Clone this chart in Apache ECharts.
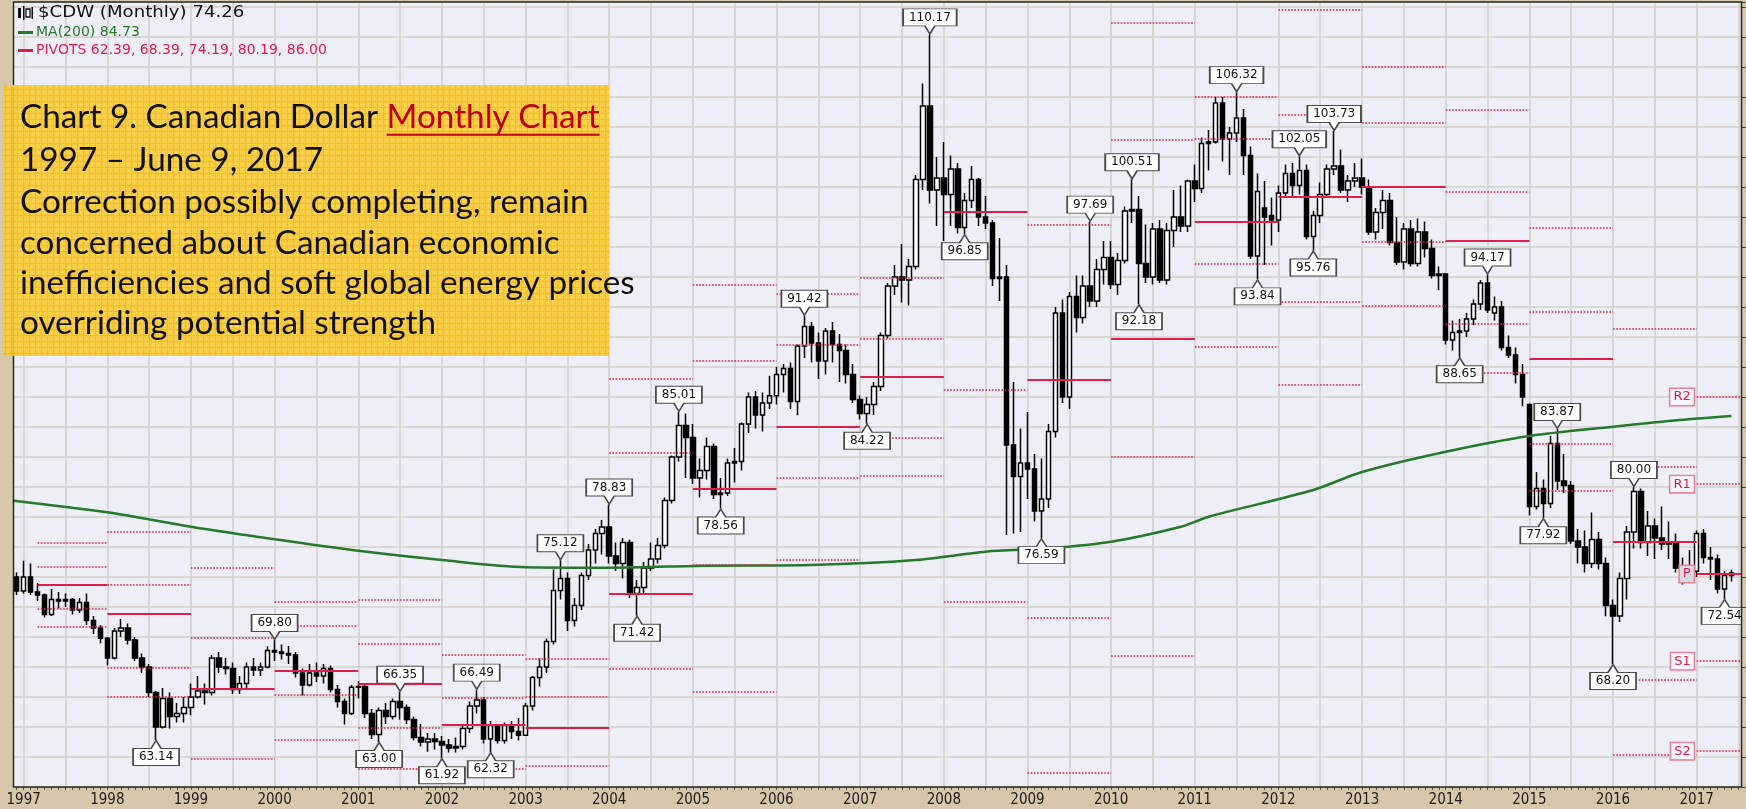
<!DOCTYPE html>
<html>
<head>
<meta charset="utf-8">
<title>$CDW Monthly</title>
<script src="https://cdn.jsdelivr.net/npm/echarts@6.0.0/dist/echarts.min.js"></script>
<style>
  html, body { margin: 0; padding: 0; background: #d8c8ab; }
  #main { width: 1746px; height: 809px; }
</style>
</head>
<body>
<div id="main"></div>
<script>
// $CDW monthly candles: [month, open, close, low, high]
var candles = [
  // 1996
  ['1996-11', 74.6, 74.0, 73.8, 75.07], ['1996-12', 74.0, 73.07, 72.8, 74.3],
  // 1997
  ['1997-01', 73.07, 74.0, 72.9, 75.08], ['1997-02', 74.0, 73.0, 72.8, 74.9],
  ['1997-03', 73.0, 72.8, 72.4, 73.6], ['1997-04', 72.8, 71.5, 71.3, 72.9],
  ['1997-05', 71.5, 72.5, 71.4, 73.2], ['1997-06', 72.5, 72.4, 71.9, 73.0],
  ['1997-07', 72.4, 72.5, 72.0, 72.9], ['1997-08', 72.5, 71.8, 71.5, 72.6],
  ['1997-09', 71.8, 72.3, 71.6, 72.6], ['1997-10', 72.3, 71.1, 70.8, 72.9],
  ['1997-11', 71.1, 70.6, 70.2, 71.4], ['1997-12', 70.6, 69.92, 69.59, 70.8],
  // 1998
  ['1998-01', 69.92, 68.6, 68.1, 70.0], ['1998-02', 68.6, 70.4, 68.5, 70.6],
  ['1998-03', 70.4, 70.6, 70.0, 71.2], ['1998-04', 70.6, 69.8, 69.5, 70.9],
  ['1998-05', 69.8, 68.6, 68.4, 70.0], ['1998-06', 68.6, 68.0, 67.6, 68.9],
  ['1998-07', 68.0, 66.3, 66.0, 68.2], ['1998-08', 66.3, 64.0, 63.14, 66.4],
  ['1998-09', 64.0, 65.9, 63.9, 66.6], ['1998-10', 65.9, 64.7, 63.9, 66.3],
  ['1998-11', 64.7, 64.9, 64.3, 65.6], ['1998-12', 64.9, 65.3, 64.3, 66.0],
  // 1999
  ['1999-01', 65.3, 66.0, 64.79, 66.9], ['1999-02', 66.0, 66.4, 65.9, 67.4],
  ['1999-03', 66.4, 66.3, 65.5, 66.9], ['1999-04', 66.3, 68.6, 66.1, 68.8],
  ['1999-05', 68.6, 68.0, 67.6, 69.0], ['1999-06', 68.0, 67.9, 67.5, 68.6],
  ['1999-07', 67.9, 66.5, 66.2, 68.3], ['1999-08', 66.5, 66.9, 66.2, 67.4],
  ['1999-09', 66.9, 68.0, 66.6, 68.3], ['1999-10', 68.0, 67.8, 67.4, 68.6],
  ['1999-11', 67.8, 68.0, 67.4, 68.3], ['1999-12', 68.0, 69.1, 67.9, 69.39],
  // 2000
  ['2000-01', 69.1, 69.0, 68.4, 69.80], ['2000-02', 69.0, 68.9, 68.5, 69.5],
  ['2000-03', 68.9, 68.8, 68.2, 69.4], ['2000-04', 68.8, 67.6, 67.3, 69.0],
  ['2000-05', 67.6, 66.8, 66.1, 67.9], ['2000-06', 66.8, 67.6, 66.7, 68.2],
  ['2000-07', 67.6, 67.4, 67.0, 68.3], ['2000-08', 67.4, 67.9, 66.9, 68.2],
  ['2000-09', 67.9, 66.5, 66.3, 68.1], ['2000-10', 66.5, 65.7, 65.3, 66.8],
  ['2000-11', 65.7, 64.9, 64.17, 65.9], ['2000-12', 64.9, 66.65, 64.8, 66.8],
  // 2001
  ['2001-01', 66.65, 66.7, 65.9, 67.05], ['2001-02', 66.7, 64.9, 64.6, 66.9],
  ['2001-03', 64.9, 63.5, 63.2, 65.2], ['2001-04', 63.5, 65.1, 63.00, 65.3],
  ['2001-05', 65.1, 64.7, 64.2, 65.6], ['2001-06', 64.7, 65.7, 64.5, 65.9],
  ['2001-07', 65.7, 65.3, 64.5, 66.35], ['2001-08', 65.3, 64.5, 64.2, 65.5],
  ['2001-09', 64.5, 63.3, 63.1, 64.7], ['2001-10', 63.3, 63.0, 62.7, 64.2],
  ['2001-11', 63.0, 63.2, 62.35, 63.6], ['2001-12', 63.2, 63.03, 62.5, 63.6],
  // 2002
  ['2002-01', 63.03, 62.8, 61.92, 63.4], ['2002-02', 62.8, 62.6, 62.3, 63.2],
  ['2002-03', 62.6, 62.7, 62.3, 63.3], ['2002-04', 62.7, 63.9, 62.5, 64.1],
  ['2002-05', 63.9, 65.4, 63.6, 65.7], ['2002-06', 65.4, 65.8, 64.9, 66.49],
  ['2002-07', 65.8, 63.2, 62.9, 66.0], ['2002-08', 63.2, 64.1, 62.32, 64.4],
  ['2002-09', 64.1, 63.1, 62.9, 64.2], ['2002-10', 63.1, 64.1, 62.9, 64.3],
  ['2002-11', 64.1, 63.7, 63.2, 64.4], ['2002-12', 63.7, 63.45, 63.1, 64.6],
  // 2003
  ['2003-01', 63.45, 65.4, 63.41, 65.6], ['2003-02', 65.4, 67.3, 65.1, 67.4],
  ['2003-03', 67.3, 68.0, 66.7, 68.6], ['2003-04', 68.0, 69.7, 67.6, 69.9],
  ['2003-05', 69.7, 73.1, 69.5, 74.5], ['2003-06', 73.1, 73.9, 72.5, 75.12],
  ['2003-07', 73.9, 71.1, 70.4, 74.3], ['2003-08', 71.1, 72.1, 70.7, 72.6],
  ['2003-09', 72.1, 74.1, 71.8, 74.3], ['2003-10', 74.1, 75.8, 73.8, 76.2],
  ['2003-11', 75.8, 76.9, 74.9, 77.2], ['2003-12', 76.9, 77.34, 75.5, 77.8],
  // 2004
  ['2004-01', 77.34, 75.4, 74.9, 78.83], ['2004-02', 75.4, 74.9, 74.4, 76.3],
  ['2004-03', 74.9, 76.3, 73.9, 76.6], ['2004-04', 76.3, 72.9, 72.6, 76.5],
  ['2004-05', 72.9, 73.3, 71.42, 73.8], ['2004-06', 73.3, 74.6, 72.8, 75.0],
  ['2004-07', 74.6, 75.2, 74.4, 76.3], ['2004-08', 75.2, 76.1, 74.9, 76.6],
  ['2004-09', 76.1, 79.1, 75.9, 79.3], ['2004-10', 79.1, 82.0, 78.9, 82.1],
  ['2004-11', 82.0, 84.1, 81.7, 85.01], ['2004-12', 84.1, 83.3, 80.6, 84.9],
  // 2005
  ['2005-01', 83.3, 80.6, 80.2, 84.2], ['2005-02', 80.6, 81.1, 79.3, 81.9],
  ['2005-03', 81.1, 82.7, 80.5, 83.3], ['2005-04', 82.7, 79.5, 79.2, 82.9],
  ['2005-05', 79.5, 79.6, 78.56, 80.6], ['2005-06', 79.6, 81.6, 79.4, 81.9],
  ['2005-07', 81.6, 81.7, 80.3, 82.6], ['2005-08', 81.7, 84.2, 81.1, 84.3],
  ['2005-09', 84.2, 86.0, 83.6, 86.3], ['2005-10', 86.0, 84.8, 83.9, 86.4],
  ['2005-11', 84.8, 85.6, 83.7, 86.3], ['2005-12', 85.6, 86.08, 85.2, 87.42],
  // 2006
  ['2006-01', 86.08, 87.5, 85.5, 88.0], ['2006-02', 87.5, 87.9, 86.3, 88.2],
  ['2006-03', 87.9, 85.7, 85.2, 88.3], ['2006-04', 85.7, 89.4, 84.79, 89.5],
  ['2006-05', 89.4, 90.7, 88.6, 91.42], ['2006-06', 90.7, 89.6, 88.3, 91.0],
  ['2006-07', 89.6, 88.4, 87.2, 90.3], ['2006-08', 88.4, 90.4, 87.5, 90.6],
  ['2006-09', 90.4, 89.5, 88.3, 91.0], ['2006-10', 89.5, 89.1, 87.0, 90.2],
  ['2006-11', 89.1, 87.5, 86.9, 89.5], ['2006-12', 87.5, 85.84, 85.6, 88.2],
  // 2007
  ['2007-01', 85.84, 84.9, 84.5, 86.1], ['2007-02', 84.9, 85.5, 84.22, 86.0],
  ['2007-03', 85.5, 86.7, 84.8, 87.0], ['2007-04', 86.7, 90.1, 86.4, 90.3],
  ['2007-05', 90.1, 93.4, 89.9, 93.6], ['2007-06', 93.4, 94.0, 92.8, 94.8],
  ['2007-07', 94.0, 93.8, 92.3, 96.2], ['2007-08', 93.8, 94.7, 92.1, 95.2],
  ['2007-09', 94.7, 100.5, 94.5, 100.8], ['2007-10', 100.5, 105.4, 99.8, 106.9],
  ['2007-11', 105.4, 99.8, 98.9, 110.17], ['2007-12', 99.8, 100.6, 97.4, 102.0],
  // 2008
  ['2008-01', 100.6, 99.5, 96.4, 103.0], ['2008-02', 99.5, 101.2, 97.4, 102.1],
  ['2008-03', 101.2, 97.3, 96.9, 101.6], ['2008-04', 97.3, 99.1, 96.85, 99.6],
  ['2008-05', 99.1, 100.5, 98.6, 101.4], ['2008-06', 100.5, 98.0, 97.4, 100.6],
  ['2008-07', 98.0, 97.6, 97.2, 99.4], ['2008-08', 97.6, 93.9, 93.4, 97.8],
  ['2008-09', 93.9, 94.0, 92.4, 96.6], ['2008-10', 94.0, 82.8, 76.8, 94.8],
  ['2008-11', 82.8, 80.7, 76.9, 87.0], ['2008-12', 80.7, 81.6, 77.0, 83.9],
  // 2009
  ['2009-01', 81.6, 81.2, 79.2, 85.0], ['2009-02', 81.2, 78.4, 77.7, 82.2],
  ['2009-03', 78.4, 79.2, 76.59, 81.9], ['2009-04', 79.2, 83.7, 78.6, 84.2],
  ['2009-05', 83.7, 91.6, 83.3, 92.0], ['2009-06', 91.6, 86.0, 85.6, 92.5],
  ['2009-07', 86.0, 92.7, 85.2, 93.0], ['2009-08', 92.7, 91.3, 90.3, 94.1],
  ['2009-09', 91.3, 93.4, 90.9, 94.1], ['2009-10', 93.4, 92.4, 92.0, 97.69],
  ['2009-11', 92.4, 94.5, 92.0, 95.2], ['2009-12', 94.5, 95.3, 93.5, 96.4],
  // 2010
  ['2010-01', 95.3, 93.5, 93.2, 96.4], ['2010-02', 93.5, 95.1, 92.8, 95.6],
  ['2010-03', 95.1, 98.4, 94.9, 98.7], ['2010-04', 98.4, 98.5, 97.6, 100.51],
  ['2010-05', 98.5, 94.9, 92.18, 99.4], ['2010-06', 94.9, 94.0, 93.6, 97.5],
  ['2010-07', 94.0, 97.2, 93.5, 97.6], ['2010-08', 97.2, 93.8, 93.6, 97.8],
  ['2010-09', 93.8, 97.1, 93.5, 97.6], ['2010-10', 97.1, 98.0, 96.0, 99.8],
  ['2010-11', 98.0, 97.4, 97.0, 100.1], ['2010-12', 97.4, 100.4, 97.0, 100.5],
  // 2011
  ['2011-01', 100.4, 99.9, 99.0, 101.5], ['2011-02', 99.9, 102.9, 99.6, 103.3],
  ['2011-03', 102.9, 103.0, 101.1, 103.8], ['2011-04', 103.0, 105.6, 102.9, 106.0],
  ['2011-05', 105.6, 103.2, 101.7, 106.0], ['2011-06', 103.2, 103.6, 100.8, 104.0],
  ['2011-07', 103.6, 104.6, 103.0, 106.32], ['2011-08', 104.6, 102.1, 100.8, 105.2],
  ['2011-09', 102.1, 95.4, 95.2, 102.7], ['2011-10', 95.4, 99.7, 93.84, 100.9],
  ['2011-11', 98.6, 98.0, 94.8, 100.4], ['2011-12', 98.1, 97.8, 96.1, 99.3],
  // 2012
  ['2012-01', 97.8, 99.6, 97.0, 100.1], ['2012-02', 99.6, 100.9, 99.3, 101.5],
  ['2012-03', 100.9, 100.1, 99.3, 101.6], ['2012-04', 100.1, 101.1, 99.5, 102.05],
  ['2012-05', 101.1, 96.7, 96.5, 101.5], ['2012-06', 96.7, 98.1, 95.76, 98.4],
  ['2012-07', 98.1, 99.5, 97.6, 100.3], ['2012-08', 99.5, 101.2, 99.4, 101.5],
  ['2012-09', 101.2, 101.4, 100.8, 103.73], ['2012-10', 101.4, 99.8, 99.6, 102.5],
  ['2012-11', 99.8, 100.4, 99.0, 100.8], ['2012-12', 100.4, 100.6, 100.0, 101.6],
  // 2013
  ['2013-01', 100.6, 100.0, 99.5, 101.89], ['2013-02', 100.0, 97.0, 96.8, 100.5],
  ['2013-03', 97.0, 98.3, 96.5, 98.6], ['2013-04', 98.3, 99.1, 97.2, 99.8],
  ['2013-05', 99.1, 96.3, 96.1, 99.6], ['2013-06', 96.3, 95.0, 94.8, 98.0],
  ['2013-07', 95.0, 97.2, 94.5, 97.6], ['2013-08', 97.2, 94.9, 94.7, 97.8],
  ['2013-09', 94.9, 97.0, 94.7, 97.9], ['2013-10', 97.0, 95.9, 95.3, 97.7],
  ['2013-11', 95.9, 94.1, 93.9, 96.5], ['2013-12', 94.1, 94.2, 93.11, 94.7],
  // 2014
  ['2014-01', 94.2, 89.8, 89.5, 94.15], ['2014-02', 89.8, 90.3, 89.1, 91.1],
  ['2014-03', 90.3, 90.4, 88.65, 91.2], ['2014-04', 90.4, 91.2, 90.0, 91.6],
  ['2014-05', 91.2, 92.2, 90.8, 92.5], ['2014-06', 92.2, 93.6, 91.8, 93.8],
  ['2014-07', 93.6, 91.8, 91.6, 94.17], ['2014-08', 91.6, 92.0, 91.1, 92.7],
  ['2014-09', 92.0, 89.3, 89.1, 92.4], ['2014-10', 89.3, 88.8, 88.6, 90.1],
  ['2014-11', 88.8, 87.5, 86.9, 89.3], ['2014-12', 87.5, 86.0, 85.39, 88.2],
  // 2015
  ['2015-01', 85.5, 78.7, 78.1, 85.57], ['2015-02', 78.7, 79.9, 78.5, 81.0],
  ['2015-03', 79.9, 78.9, 77.92, 80.5], ['2015-04', 78.9, 82.9, 78.6, 83.4],
  ['2015-05', 82.9, 80.4, 79.8, 83.87], ['2015-06', 80.4, 80.1, 79.6, 82.2],
  ['2015-07', 80.1, 76.4, 76.2, 80.4], ['2015-08', 76.4, 76.0, 74.9, 77.2],
  ['2015-09', 76.0, 74.9, 74.3, 77.1], ['2015-10', 74.9, 76.5, 74.6, 78.3],
  ['2015-11', 76.5, 74.9, 74.5, 77.0], ['2015-12', 74.9, 72.1, 71.39, 75.3],
  // 2016
  ['2016-01', 72.1, 71.4, 68.20, 72.5], ['2016-02', 71.4, 73.9, 71.0, 74.3],
  ['2016-03', 73.9, 77.0, 72.5, 77.4], ['2016-04', 77.0, 79.7, 75.9, 80.004],
  ['2016-05', 79.7, 76.3, 75.9, 79.9], ['2016-06', 76.3, 77.4, 75.4, 78.4],
  ['2016-07', 77.4, 76.6, 75.2, 77.9], ['2016-08', 76.6, 76.2, 75.8, 78.7],
  ['2016-09', 76.2, 76.25, 75.2, 77.7], ['2016-10', 76.25, 74.6, 74.3, 76.9],
  ['2016-11', 74.6, 74.5, 73.5, 75.3], ['2016-12', 74.5, 74.38, 73.8, 75.8],
  // 2017
  ['2017-01', 74.38, 76.9, 74.0, 77.1], ['2017-02', 76.9, 75.3, 74.9, 77.2],
  ['2017-03', 75.3, 75.2, 73.8, 76.0], ['2017-04', 75.2, 73.2, 72.9, 75.5],
  ['2017-05', 73.2, 74.1, 72.54, 74.4], ['2017-06', 74.1, 74.26, 73.7, 74.5]
];

// 1996 full-year high, low, close (for the 1997 pivots)
var year1996 = [75.07, 72.27, 73.07];

// MA(200)
var maPoints = [
  ['1996-11', 79.12], ['1998-01', 78.31], ['1999-01', 77.35], ['2000-01', 76.51],
  ['2001-01', 75.75], ['2002-01', 75.13], ['2003-01', 74.65], ['2004-01', 74.62],
  ['2005-03', 74.75], ['2006-06', 74.8], ['2007-09', 75.13], ['2008-07', 75.69],
  ['2009-04', 75.91], ['2010-01', 76.35], ['2010-11', 77.35], ['2011-03', 78.02],
  ['2012-06', 79.8], ['2013-01', 81.0], ['2014-01', 82.35], ['2015-01', 83.4],
  ['2016-01', 84.02], ['2016-09', 84.4], ['2017-06', 84.73]
];

// swing highs / lows that carry a value box
var callouts = [
  ['1998-08', 'low'], ['2000-01', 'high'], ['2001-04', 'low'], ['2001-07', 'high'],
  ['2002-01', 'low'], ['2002-06', 'high'], ['2002-08', 'low'], ['2003-06', 'high'],
  ['2004-01', 'high'], ['2004-05', 'low'], ['2004-11', 'high'], ['2005-05', 'low'],
  ['2006-05', 'high'], ['2007-02', 'low'], ['2007-11', 'high'], ['2008-04', 'low'],
  ['2009-03', 'low'], ['2009-10', 'high'], ['2010-04', 'high'], ['2010-05', 'low'],
  ['2011-07', 'high'], ['2011-10', 'low'], ['2012-04', 'high'], ['2012-06', 'low'],
  ['2012-09', 'high'], ['2014-03', 'low'], ['2014-07', 'high'], ['2015-03', 'low'],
  ['2015-05', 'high'], ['2016-01', 'low'], ['2016-04', 'high'], ['2017-05', 'low']
];

var noteTitle = ['Chart 9. Canadian Dollar ', 'Monthly Chart'];
var noteLines = [
  '1997 \u2013 June 9, 2017',
  'Correction possibly completing, remain',
  'concerned about Canadian economic',
  'inefficiencies and soft global energy prices',
  'overriding potential strength'
];

var TAN = '#d8c8ab';
var PLOT_BG = '#eeeef6';
var GRID_LINE = '#d2d0cc';
var PIVOT_RED = '#e01e4e';
var MA_GREEN = '#25792a';
var YMIN = 60, YMAX = 112.33;

var chartDom = document.getElementById('main');
var myChart = echarts.init(chartDom);
var option;

// categories Oct 1996 .. Aug 2017; the empty ends put the plot edges in place
var months = [];
(function () {
  var y = 1996, m = 10;
  while (y < 2017 || (y === 2017 && m <= 8)) {
    months.push(y + '-' + (m < 10 ? '0' : '') + m);
    m++;
    if (m > 12) { m = 1; y++; }
  }
})();

var byMonth = {};
candles.forEach(function (r) { byMonth[r[0]] = r; });

var candleData = months.map(function (k) {
  var r = byMonth[k];
  return r ? [r[1], r[2], r[3], r[4]] : '-';
});

var maByMonth = {};
maPoints.forEach(function (p) { maByMonth[p[0]] = p[1]; });
var maData = months.map(function (k) {
  return k in maByMonth ? maByMonth[k] : null;
});

function yearStats(yr) {
  var rows = candles.filter(function (r) { return r[0].slice(0, 4) === String(yr); });
  return {
    high: Math.max.apply(null, rows.map(function (r) { return r[4]; })),
    low: Math.min.apply(null, rows.map(function (r) { return r[3]; })),
    close: rows[rows.length - 1][2]
  };
}

// yearly floor-trader pivots from the previous year's high / low / close
var pivotLines = [];
var lastPivots = [];
for (var yr = 1997; yr <= 2017; yr++) {
  var b = yr === 1997
    ? { high: year1996[0], low: year1996[1], close: year1996[2] }
    : yearStats(yr - 1);
  var p = (b.high + b.low + b.close) / 3;
  var range = b.high - b.low;
  var levels = [
    ['R2', p + range], ['R1', 2 * p - b.low], ['P', p],
    ['S1', 2 * p - b.high], ['S2', p - range]
  ];
  if (yr === 2017) lastPivots = levels;
  var from = yr === 1997 ? '1997-03' : yr + '-01';
  var to = yr === 2017 ? months[months.length - 1] : (yr + 1) + '-01';
  levels.forEach(function (lv) {
    if (lv[1] < YMIN || lv[1] > YMAX) return;
    var solid = lv[0] === 'P';
    pivotLines.push([{
      coord: [from, lv[1]],
      lineStyle: {
        color: PIVOT_RED,
        width: solid ? 2 : 1.6,
        type: solid ? 'solid' : [1.6, 1.6],
        opacity: 1
      },
      label: yr === 2017 ? {
        show: true,
        position: 'start',
        distance: 3,
        formatter: lv[0],
        color: PIVOT_RED,
        fontSize: 13,
        fontFamily: 'DejaVu Sans',
        backgroundColor: solid ? '#d9d9e2' : '#f6f6fb',
        borderColor: '#ea7f97',
        borderWidth: 1.5,
        padding: [2, 3, 1, 3]
      } : { show: false }
    }, { coord: [to, lv[1]] }]);
  });
}

function highBox(w) {
  var c = w / 2;
  return 'path://M0,0H' + w + 'V17H' + (c + 5) + 'L' + c + ',25L' + (c - 5) + ',17H0Z';
}
function lowBox(w) {
  var c = w / 2;
  return 'path://M' + c + ',0L' + (c + 5) + ',8H' + w + 'V25H0V8H' + (c - 5) + 'Z';
}

var calloutPoints = callouts.map(function (c) {
  var r = byMonth[c[0]];
  var isHigh = c[1] === 'high';
  var v = isHigh ? r[4] : r[3];
  var txt = v.toFixed(2);
  var w = txt.length * 7.6 + 8;
  return {
    coord: [c[0], v],
    symbol: isHigh ? highBox(w) : lowBox(w),
    symbolSize: [w, 25],
    symbolOffset: [0, isHigh ? -13 : 13],
    itemStyle: { color: '#ffffff', borderColor: '#4a4a4a', borderWidth: 1.3 },
    label: {
      show: true,
      position: 'inside',
      offset: [0, isHigh ? -4 : 4],
      formatter: txt,
      color: '#111',
      fontSize: 12,
      fontFamily: 'DejaVu Sans'
    }
  };
});

// text box fonts, sized to the widest line
var measureCtx = document.createElement('canvas').getContext('2d');
measureCtx.font = '100px Lato';
var noteSize = 100 * 615 / measureCtx.measureText(noteLines[3]).width;
measureCtx.font = noteSize + 'px Lato';
var titleW = measureCtx.measureText(noteTitle[0]).width;
var linkW = measureCtx.measureText(noteTitle[1]).width;

// yellow hatch for the text box
var hatch = document.createElement('canvas');
hatch.width = 6; hatch.height = 6;
var hctx = hatch.getContext('2d');
hctx.fillStyle = '#fdca2e';
hctx.fillRect(0, 0, 6, 6);
hctx.fillStyle = '#f4b80c';
hctx.fillRect(0, 5, 6, 1);
hctx.fillRect(5, 0, 1, 6);
hctx.fillStyle = '#ffd95e';
hctx.fillRect(2, 2, 1, 1);

var noteY = [117, 160, 202, 243, 283, 323];
var noteGraphics = [
  {
    type: 'rect', z: 70, silent: true,
    shape: { x: 3, y: 85, width: 606, height: 271 },
    style: { fill: { image: hatch, repeat: 'repeat' }, opacity: 0.9 }
  },
  {
    type: 'text', z: 71, silent: true, x: 20, y: noteY[0],
    style: { text: noteTitle[0], fontSize: noteSize, fontFamily: 'Lato', fill: '#111', verticalAlign: 'middle' }
  },
  {
    type: 'text', z: 71, silent: true, x: 20 + titleW, y: noteY[0],
    style: { text: noteTitle[1], fontSize: noteSize, fontFamily: 'Lato', fill: '#c00000', verticalAlign: 'middle' }
  },
  {
    type: 'rect', z: 71, silent: true,
    shape: { x: 20 + titleW, y: noteY[0] + noteSize * 0.5, width: linkW, height: 2 },
    style: { fill: '#c00000' }
  }
];
noteLines.forEach(function (t, i) {
  noteGraphics.push({
    type: 'text', z: 71, silent: true, x: 20, y: noteY[i + 1],
    style: { text: t, fontSize: noteSize, fontFamily: 'Lato', fill: '#111', verticalAlign: 'middle' }
  });
});

var lastClose = candles[candles.length - 1][2];
var lastMa = maPoints[maPoints.length - 1][1];
var pivotText = lastPivots.map(function (l) { return l[1]; })
  .sort(function (a, b) { return a - b; })
  .map(function (v) { return v.toFixed(2); }).join(', ');

var headerGraphics = [
  // tiny candle icon
  { type: 'rect', z: 60, silent: true, shape: { x: 18, y: 8, width: 3, height: 10 }, style: { fill: '#111' } },
  { type: 'rect', z: 60, silent: true, shape: { x: 23, y: 6, width: 1.5, height: 14 }, style: { fill: '#111' } },
  { type: 'rect', z: 60, silent: true, shape: { x: 26, y: 9, width: 4, height: 8 }, style: { fill: '#fff', stroke: '#111', lineWidth: 1.3 } },
  { type: 'rect', z: 60, silent: true, shape: { x: 31.5, y: 7, width: 1.5, height: 12 }, style: { fill: '#111' } },
  {
    type: 'text', z: 60, silent: true, x: 38, y: 13, scaleX: 1.17,
    style: { text: '$CDW (Monthly) ' + lastClose.toFixed(2), fontSize: 15.5, fontFamily: 'DejaVu Sans', fill: '#111', verticalAlign: 'middle' }
  },
  { type: 'rect', z: 60, silent: true, shape: { x: 18, y: 31, width: 15, height: 3 }, style: { fill: MA_GREEN } },
  {
    type: 'text', z: 60, silent: true, x: 36, y: 32,
    style: { text: 'MA(200) ' + lastMa.toFixed(2), fontSize: 14, fontFamily: 'DejaVu Sans', fill: MA_GREEN, verticalAlign: 'middle' }
  },
  { type: 'rect', z: 60, silent: true, shape: { x: 18, y: 49, width: 15, height: 3 }, style: { fill: PIVOT_RED } },
  {
    type: 'text', z: 60, silent: true, x: 36, y: 50,
    style: { text: 'PIVOTS ' + pivotText, fontSize: 14, fontFamily: 'DejaVu Sans', fill: PIVOT_RED, verticalAlign: 'middle' }
  }
];

var frameGraphics = [
  { type: 'rect', z: 50, silent: true, shape: { x: 0, y: 0, width: 13.5, height: 791 }, style: { fill: TAN } },
  { type: 'rect', z: 50, silent: true, shape: { x: 1741.5, y: 0, width: 4.5, height: 791 }, style: { fill: TAN } },
  { type: 'rect', z: 50, silent: true, shape: { x: 0, y: 0, width: 1746, height: 1.5 }, style: { fill: TAN } },
  {
    type: 'rect', z: 51, silent: true,
    shape: { x: 13.5, y: 2, width: 1728, height: 785 },
    style: { fill: 'none', stroke: '#262626', lineWidth: 1.5 }
  }
];

option = {
  backgroundColor: TAN,
  animation: false,
  grid: {
    left: 2.73, right: 0.52, top: 2, bottom: 22,
    show: true, backgroundColor: PLOT_BG, borderWidth: 0,
    outerBoundsMode: 'none'
  },
  xAxis: {
    type: 'category',
    data: months,
    boundaryGap: false,
    axisLine: { show: false },
    axisTick: { show: true, interval: 0, length: 3, lineStyle: { color: '#555', width: 1 } },
    axisLabel: {
      interval: function (i, v) { return v.slice(5) === '01'; },
      formatter: function (v) { return v.slice(0, 4); },
      color: '#1a1a1a',
      fontSize: 15,
      fontFamily: '"DejaVu Sans Condensed", "Liberation Sans Narrow", "DejaVu Sans"',
      margin: 6
    },
    splitLine: {
      show: true,
      interval: function (i, v) { var mm = v.slice(5); return mm === '01' || mm === '07'; },
      lineStyle: { color: GRID_LINE, width: 1.5 }
    }
  },
  yAxis: [
    {
      type: 'value',
      position: 'right',
      min: YMIN,
      max: YMAX,
      interval: 2,
      axisLine: { show: false },
      axisTick: { show: false },
      axisLabel: { show: false },
      splitLine: { show: true, lineStyle: { color: GRID_LINE, width: 1.5 } }
    },
    {
      // small price ticks along the right edge, drawn above the margin strip
      type: 'value',
      position: 'right',
      min: YMIN,
      max: YMAX,
      interval: 2,
      z: 60,
      axisLine: { show: false },
      axisTick: { show: true, inside: true, length: 3.5, lineStyle: { color: '#333', width: 1 } },
      axisLabel: { show: false },
      splitLine: { show: false }
    }
  ],
  series: [
    {
      name: '$CDW',
      type: 'candlestick',
      data: candleData,
      barWidth: 5,
      z: 2,
      itemStyle: {
        color: '#ffffff',
        color0: '#000000',
        borderColor: '#000000',
        borderColor0: '#000000',
        borderWidth: 1.5
      }
    },
    {
      name: 'MA(200)',
      type: 'line',
      data: maData,
      connectNulls: true,
      smooth: 0.3,
      symbol: 'none',
      z: 3,
      lineStyle: { color: MA_GREEN, width: 2.5 },
      markLine: {
        silent: true,
        symbol: ['none', 'none'],
        animation: false,
        emphasis: { disabled: true },
        data: pivotLines
      },
      markPoint: {
        silent: true,
        animation: false,
        data: calloutPoints
      }
    }
  ],
  graphic: frameGraphics.concat(headerGraphics, noteGraphics)
};

option && myChart.setOption(option);
</script>
</body>
</html>
